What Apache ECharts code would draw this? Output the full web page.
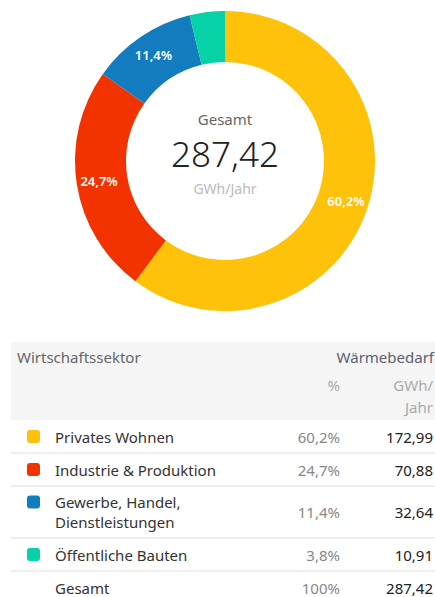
<!DOCTYPE html>
<html>
<head>
<meta charset="utf-8">
<script src="https://cdn.jsdelivr.net/npm/echarts@6/dist/echarts.min.js"></script>
<style>
  html, body { margin: 0; padding: 0; background: #fff; }
  #chart { width: 435px; height: 597px; }
</style>
</head>
<body>
<div id="chart"></div>
<script>
// Daten
const sectors = ['Privates Wohnen', 'Industrie & Produktion', 'Gewerbe, Handel,\nDienstleistungen', 'Öffentliche Bauten']
const values = [172.99, 70.88, 32.64, 10.91]
const percents = ['60,2%', '24,7%', '11,4%', '3,8%']
const colors = ['#FFC20A', '#F23300', '#127CBE', '#06D1A7']
const totalLabel = '287,42'
const totalPercent = '100%'

const FONT = '"Noto Sans", sans-serif'
const fmt = (v) => v.toFixed(2).replace('.', ',')

// Tabelle als graphic-Elemente
const graphics = []
graphics.push({ type: 'rect', shape: { x: 11, y: 342, width: 430, height: 78 }, style: { fill: '#F5F5F5' } })
graphics.push({ type: 'text', x: 17, y: 357, style: { text: 'Wirtschaftssektor', fill: '#666', font: '15px ' + FONT, textVerticalAlign: 'middle' } })
graphics.push({ type: 'text', x: 434, y: 357, style: { text: 'Wärmebedarf', fill: '#596170', font: '15px ' + FONT, textAlign: 'right', textVerticalAlign: 'middle' } })
graphics.push({ type: 'text', x: 340, y: 385, style: { text: '%', fill: '#aaa', font: '15px ' + FONT, textAlign: 'right', textVerticalAlign: 'middle' } })
graphics.push({ type: 'text', x: 433, y: 385, style: { text: 'GWh/', fill: '#aaa', font: '15px ' + FONT, textAlign: 'right', textVerticalAlign: 'middle' } })
graphics.push({ type: 'text', x: 433, y: 407, style: { text: 'Jahr', fill: '#aaa', font: '15px ' + FONT, textAlign: 'right', textVerticalAlign: 'middle' } })

let y = 420
const rows = sectors.map((s, i) => ({ name: s, pct: percents[i], val: fmt(values[i]), color: colors[i] }))
rows.push({ name: 'Gesamt', pct: totalPercent, val: totalLabel, color: null })
rows.forEach((r, i) => {
  const lines = r.name.split('\n').length
  const h = lines > 1 ? 52 : 33
  const mid = y + h / 2
  const firstLine = lines > 1 ? mid - 10 : mid
  if (r.color) {
    graphics.push({ type: 'rect', shape: { x: 27, y: firstLine - 6.5, width: 13, height: 13, r: 3 }, style: { fill: r.color } })
  }
  graphics.push({ type: 'text', x: 55, y: mid, style: { text: r.name, fill: '#333', font: '15px ' + FONT, lineHeight: 20, textVerticalAlign: 'middle' } })
  graphics.push({ type: 'text', x: 340, y: mid, style: { text: r.pct, fill: '#888', font: '15px ' + FONT, textAlign: 'right', textVerticalAlign: 'middle' } })
  graphics.push({ type: 'text', x: 433, y: mid, style: { text: r.val, fill: '#222', font: '15px ' + FONT, textAlign: 'right', textVerticalAlign: 'middle' } })
  y += h
  if (i < rows.length - 1) {
    graphics.push({ type: 'line', shape: { x1: 11, y1: y, x2: 435, y2: y }, style: { stroke: '#ddd', lineWidth: 1 } })
  }
})

// Mitte des Donuts
graphics.push({ type: 'text', x: 225, y: 119, style: { text: 'Gesamt', fill: '#666', font: '15px ' + FONT, textAlign: 'center', textVerticalAlign: 'middle' } })
graphics.push({ type: 'text', x: 225, y: 153, style: { text: totalLabel, fill: '#222', font: '300 35px ' + FONT, lineHeight: 32, textAlign: 'center', textVerticalAlign: 'middle' } })
graphics.push({ type: 'text', x: 225, y: 188, style: { text: 'GWh/Jahr', fill: '#bbb', font: '14px ' + FONT, textAlign: 'center', textVerticalAlign: 'middle' } })

const chart = echarts.init(document.getElementById('chart'), null, { renderer: 'svg' })
chart.setOption({
  animation: false,
  graphic: graphics,
  series: [{
    type: 'pie',
    center: [225, 161],
    radius: [99, 150],
    startAngle: 90,
    clockwise: true,
    silent: true,
    data: sectors.map((s, i) => ({ name: s, value: values[i], itemStyle: { color: colors[i] } })),
    label: {
      show: true,
      position: 'inside',
      color: '#fff',
      fontFamily: FONT,
      fontSize: 13,
      fontWeight: 600,
      formatter: (p) => p.percent < 5 ? '' : percents[p.dataIndex]
    },
    labelLine: { show: false }
  }]
})
</script>
</body>
</html>
